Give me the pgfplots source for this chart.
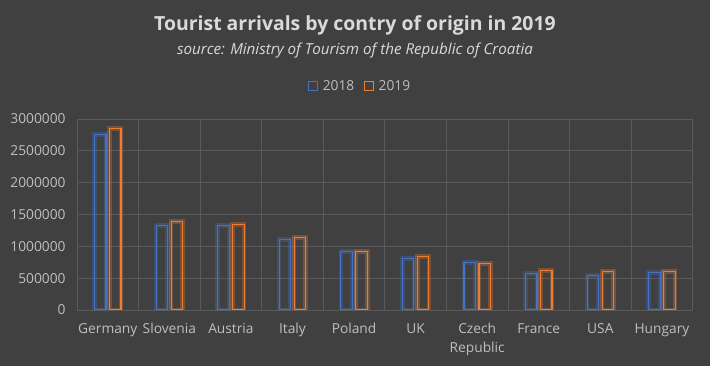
\documentclass[border=0pt]{standalone}
\usepackage{pgfplots}
\pgfplotsset{compat=1.18}
\usepackage{fontspec}
\setmainfont{Open Sans}
\definecolor{bg}{HTML}{404040}
\definecolor{gridc}{HTML}{5A5A5A}
\definecolor{txt}{HTML}{BFBFBF}
\definecolor{ttl}{HTML}{D9D9D9}
\definecolor{cblue}{HTML}{4472C4}
\definecolor{corange}{HTML}{ED7D31}
\begin{document}
\begin{tikzpicture}
\fill[bg] (0,0) rectangle (710bp,366bp);
\node[text=ttl,font=\bfseries\fontsize{19.5}{22}\selectfont] at (355bp,341bp) {Tourist arrivals by contry of origin in 2019};
\node[text=ttl,font=\itshape\fontsize{15.2}{17}\selectfont] at (355bp,315.5bp) {source: Ministry of Tourism of the Republic of Croatia};
\begin{axis}[
  at={(77bp,56bp)}, anchor=south west,
  scale only axis, width=615.7bp, height=191bp,
  ybar,
  xmin=-0.5, xmax=9.5, ymin=0, ymax=3000000,
  xtick={0,...,9},
  xticklabels={Germany,Slovenia,Austria,Italy,Poland,UK,{Czech\\Republic},France,USA,Hungary},
  minor xtick={-0.5,0.5,...,9.5},
  ytick={0,500000,...,3000000},
  scaled y ticks=false,
  yticklabel style={/pgf/number format/fixed,/pgf/number format/1000 sep={},/pgf/number format/assume math mode=true},
  tick label style={text=txt,font=\fontsize{13.8}{18.5}\selectfont},
  xticklabel style={align=center,yshift=-10bp},
  yticklabel style={xshift=-8bp},
  major tick length=0pt, minor tick length=0pt,
  ymajorgrids, xminorgrids,
  grid style={draw=gridc,line width=0.8bp},
  minor grid style={draw=gridc,line width=0.8bp},
  axis line style={draw=none},
  bar width=11.5bp,
  legend columns=2,
  legend style={at={(0.46,1.173)},anchor=center,draw=none,fill=none,text=txt,font=\fontsize{13.8}{16}\selectfont,
    /tikz/every even column/.append style={column sep=8bp},
    /tikz/every odd column/.append style={column sep=2.5bp}},
  legend image code/.code={\draw[#1,line width=1bp,fill=none] (0bp,-4.5bp) rectangle (9bp,4.5bp);},
]
\addplot[forget plot,draw=cblue,draw opacity=0.3,line width=4.5bp,fill=none,bar shift=-7.5bp] coordinates {
(0,2760000)(1,1330000)(2,1330000)(3,1110000)(4,922000)(5,812000)(6,749000)(7,576000)(8,545000)(9,592000)};
\addplot[forget plot,draw=corange,draw opacity=0.3,line width=4.5bp,fill=none,bar shift=7.5bp] coordinates {
(0,2854000)(1,1393000)(2,1346000)(3,1142000)(4,922000)(5,843000)(6,733000)(7,623000)(8,608000)(9,608000)};
\addplot[draw=cblue,line width=1.2bp,fill=none,bar shift=-7.5bp] coordinates {
(0,2760000)(1,1330000)(2,1330000)(3,1110000)(4,922000)(5,812000)(6,749000)(7,576000)(8,545000)(9,592000)};
\addplot[draw=corange,line width=1.2bp,fill=none,bar shift=7.5bp] coordinates {
(0,2854000)(1,1393000)(2,1346000)(3,1142000)(4,922000)(5,843000)(6,733000)(7,623000)(8,608000)(9,608000)};
\legend{2018,2019}
\end{axis}
\pgfresetboundingbox
\useasboundingbox (0,0) rectangle (710bp,366bp);
\end{tikzpicture}
\end{document}
